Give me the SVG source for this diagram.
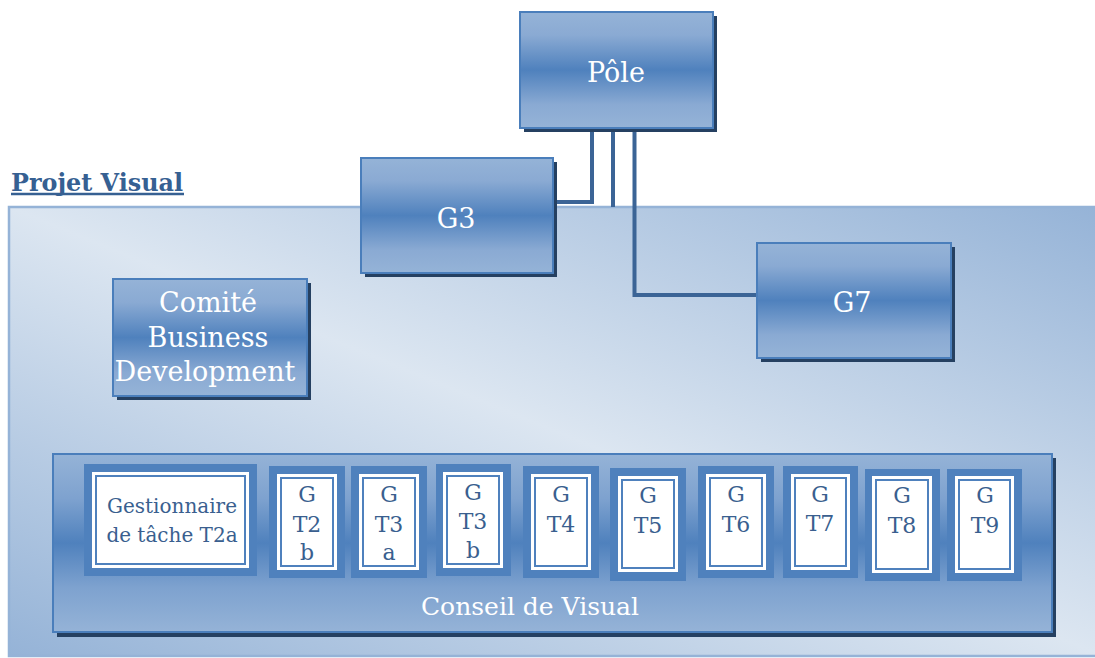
<svg xmlns="http://www.w3.org/2000/svg" width="1095" height="658" viewBox="0 0 1095 658">
  <defs>
    <linearGradient id="gBox" x1="0" y1="0" x2="0" y2="1">
      <stop offset="0" stop-color="#95b3d7"/>
      <stop offset="0.2" stop-color="#8aaad3"/>
      <stop offset="0.5" stop-color="#4f81bd"/>
      <stop offset="0.8" stop-color="#8aaad3"/>
      <stop offset="1" stop-color="#95b3d7"/>
    </linearGradient>
    <linearGradient id="gBg" x1="1" y1="0" x2="0" y2="1">
      <stop offset="0" stop-color="#95b3d7"/>
      <stop offset="0.5" stop-color="#dce6f1"/>
      <stop offset="1" stop-color="#95b3d7"/>
    </linearGradient>
    <linearGradient id="gConseil" x1="0" y1="0" x2="0" y2="1">
      <stop offset="0" stop-color="#95b3d7"/>
      <stop offset="0.25" stop-color="#7ea2cf"/>
      <stop offset="0.5" stop-color="#4f81bd"/>
      <stop offset="0.75" stop-color="#7ea2cf"/>
      <stop offset="1" stop-color="#95b3d7"/>
    </linearGradient>
  </defs>
  <style>
    text { font-family: "DejaVu Serif", "Liberation Serif", serif; }
    .shadow { fill: #254061; }
    .box { fill: url(#gBox); stroke: #4a7ebb; stroke-width: 2; }
    .big { font-size: 27px; fill: #ffffff; text-anchor: middle; }
    .conn { fill: none; stroke: #3b6496; stroke-width: 4; stroke-linejoin: miter; }
    .tOuter { fill: #4f81bd; }
    .tWhite { fill: #ffffff; }
    .tInner { fill: #ffffff; stroke: #4f81bd; stroke-width: 2; }
    .tText { font-size: 22px; fill: #3a5f8f; text-anchor: middle; }
    .tSmall { font-size: 20px; }
    .title { font-size: 25px; font-weight: bold; fill: #366092; }
  </style>

  <g id="projet-visual">
    <rect x="9" y="207" width="1095" height="449" fill="url(#gBg)" stroke="#95b3d7" stroke-width="2.5"/>
    <text class="title" x="11" y="191" textLength="172" lengthAdjust="spacingAndGlyphs">Projet Visual</text>
    <line x1="11" y1="194" x2="184" y2="194" stroke="#366092" stroke-width="2.5"/>
  </g>

  <g id="connectors">
    <polyline class="conn" points="592,128 592,202 555,202"/>
    <line class="conn" x1="613" y1="128" x2="613" y2="207"/>
    <polyline class="conn" points="634.5,128 634.5,295 757,295"/>
  </g>

  <g id="pole">
    <rect class="shadow" x="524" y="16" width="193" height="116"/>
    <rect class="box" x="520" y="12" width="193" height="116"/>
    <text class="big" x="616" y="82">Pôle</text>
  </g>

  <g id="g3">
    <rect class="shadow" x="365" y="162" width="192" height="115"/>
    <rect class="box" x="361" y="158" width="192" height="115"/>
    <text class="big" x="456" y="228">G3</text>
  </g>

  <g id="g7">
    <rect class="shadow" x="761" y="247" width="194" height="115"/>
    <rect class="box" x="757" y="243" width="194" height="115"/>
    <text class="big" x="852" y="312">G7</text>
  </g>

  <g id="comite">
    <rect class="shadow" x="117" y="283" width="194" height="117"/>
    <rect class="box" x="113" y="279" width="194" height="117"/>
    <text class="big" x="208" y="312">Comité</text>
    <text class="big" x="208" y="347">Business</text>
    <text class="big" x="205" y="381">Development</text>
  </g>

  <g id="conseil">
    <rect class="shadow" x="57" y="458" width="999" height="179"/>
    <rect x="53" y="454" width="999" height="178" fill="url(#gConseil)" stroke="#4a7ebb" stroke-width="2"/>
    <text class="big" x="530" y="615" style="font-size:25px">Conseil de Visual</text>
  </g>

  <g id="t2a">
    <rect class="tOuter" x="84" y="464" width="173" height="112"/>
    <rect class="tWhite" x="92" y="472" width="157" height="96"/>
    <rect class="tInner" x="96" y="476" width="149" height="88"/>
    <text class="tText tSmall" x="172" y="513">Gestionnaire</text>
    <text class="tText tSmall" x="172" y="542">de tâche T2a</text>
  </g>

  <g id="gt2b">
    <rect class="tOuter" x="269" y="466" width="76" height="112"/>
    <rect class="tWhite" x="277" y="474" width="60" height="96"/>
    <rect class="tInner" x="281" y="478" width="52" height="88"/>
    <text class="tText" x="307" y="502">G</text>
    <text class="tText" x="307" y="532">T2</text>
    <text class="tText" x="307" y="560">b</text>
  </g>

  <g id="gt3a">
    <rect class="tOuter" x="351" y="466" width="76" height="112"/>
    <rect class="tWhite" x="359" y="474" width="60" height="96"/>
    <rect class="tInner" x="363" y="478" width="52" height="88"/>
    <text class="tText" x="389" y="502">G</text>
    <text class="tText" x="389" y="532">T3</text>
    <text class="tText" x="389" y="560">a</text>
  </g>

  <g id="gt3b">
    <rect class="tOuter" x="436" y="464" width="75" height="112"/>
    <rect class="tWhite" x="443" y="472" width="60" height="96"/>
    <rect class="tInner" x="447" y="476" width="52" height="88"/>
    <text class="tText" x="473" y="500">G</text>
    <text class="tText" x="473" y="529">T3</text>
    <text class="tText" x="473" y="558">b</text>
  </g>

  <g id="gt4">
    <rect class="tOuter" x="523" y="466" width="76" height="112"/>
    <rect class="tWhite" x="531" y="474" width="60" height="96"/>
    <rect class="tInner" x="535" y="478" width="52" height="88"/>
    <text class="tText" x="561" y="502">G</text>
    <text class="tText" x="561" y="532">T4</text>
  </g>

  <g id="gt5">
    <rect class="tOuter" x="610" y="468" width="76" height="113"/>
    <rect class="tWhite" x="618" y="476" width="60" height="96"/>
    <rect class="tInner" x="622" y="480" width="52" height="88"/>
    <text class="tText" x="648" y="503">G</text>
    <text class="tText" x="648" y="533">T5</text>
  </g>

  <g id="gt6">
    <rect class="tOuter" x="698" y="466" width="76" height="112"/>
    <rect class="tWhite" x="706" y="474" width="60" height="96"/>
    <rect class="tInner" x="710" y="478" width="52" height="88"/>
    <text class="tText" x="736" y="502">G</text>
    <text class="tText" x="736" y="532">T6</text>
  </g>

  <g id="gt7">
    <rect class="tOuter" x="783" y="466" width="75" height="112"/>
    <rect class="tWhite" x="791" y="474" width="59" height="96"/>
    <rect class="tInner" x="795" y="478" width="51" height="88"/>
    <text class="tText" x="820" y="502">G</text>
    <text class="tText" x="820" y="531">T7</text>
  </g>

  <g id="gt8">
    <rect class="tOuter" x="865" y="469" width="75" height="112"/>
    <rect class="tWhite" x="872" y="476" width="60" height="97"/>
    <rect class="tInner" x="876" y="480" width="52" height="89"/>
    <text class="tText" x="902" y="503">G</text>
    <text class="tText" x="902" y="533">T8</text>
  </g>

  <g id="gt9">
    <rect class="tOuter" x="947" y="469" width="75" height="112"/>
    <rect class="tWhite" x="955" y="476" width="59" height="97"/>
    <rect class="tInner" x="959" y="480" width="51" height="89"/>
    <text class="tText" x="985" y="503">G</text>
    <text class="tText" x="985" y="533">T9</text>
  </g>
</svg>
